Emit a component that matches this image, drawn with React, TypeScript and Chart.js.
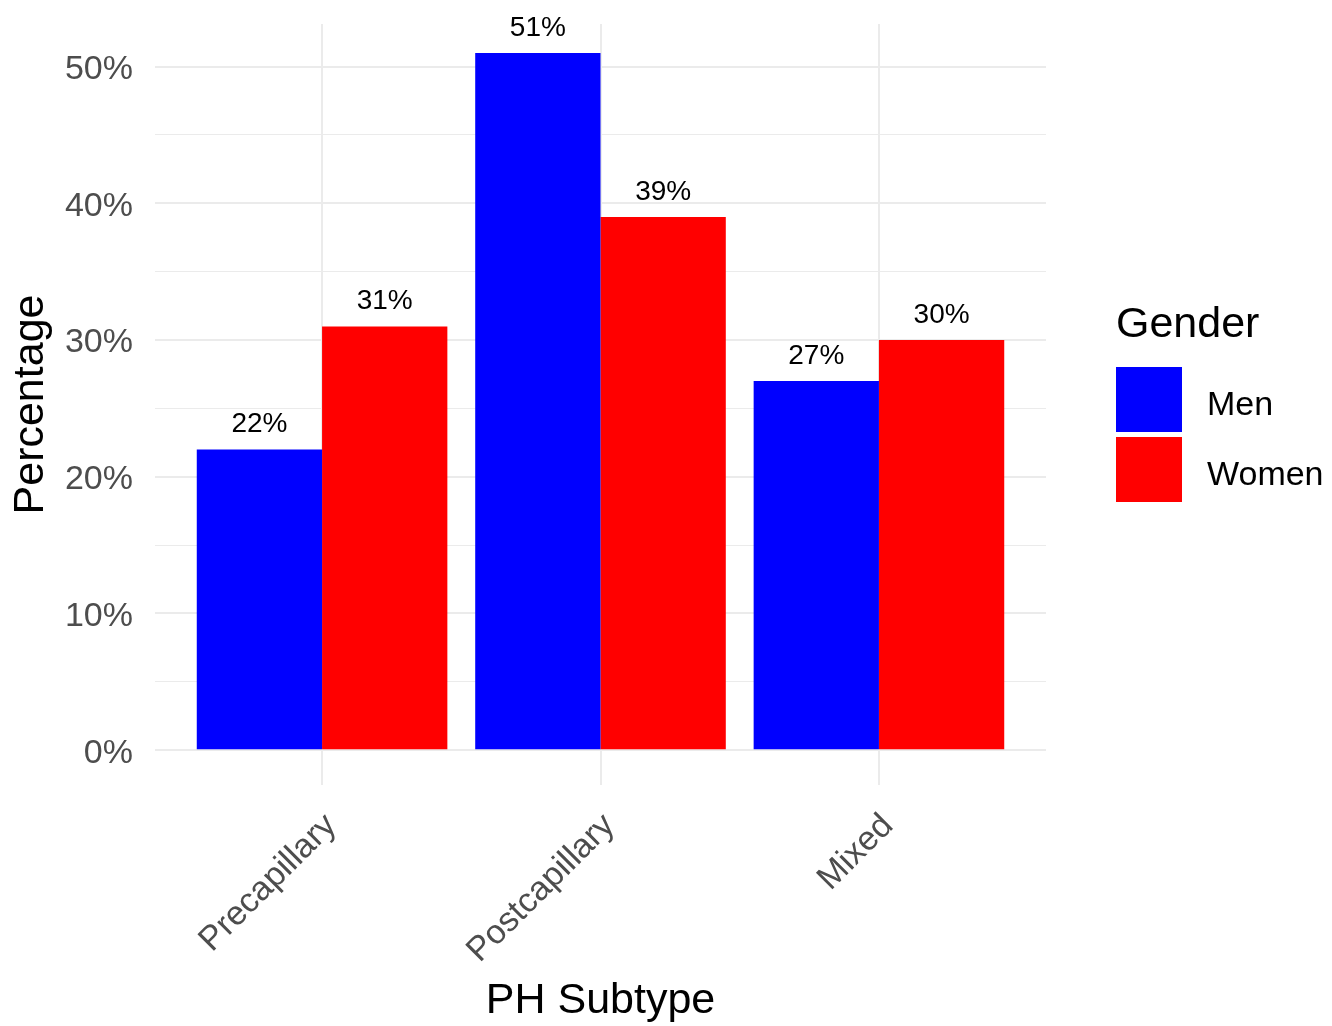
import React, { useEffect, useRef } from "react";
import { Chart, registerables } from "chart.js";

Chart.register(...registerables);

// ---- data ----
const categories = ["Precapillary", "Postcapillary", "Mixed"];
const seriesNames = ["Men", "Women"];
const menValues = [22, 51, 27];
const womenValues = [31, 39, 30];
const seriesColors = ["#0000FF", "#FF0000"];
const yTickValues = [0, 5, 10, 15, 20, 25, 30, 35, 40, 45, 50];
const yLabelledTicks = [0, 10, 20, 30, 40, 50];
const xTitle = "PH Subtype";
const yTitle = "Percentage";
const legendTitle = "Gender";

const FONT = "'Liberation Sans', Arial, Helvetica, sans-serif";

const valueLabelPlugin = {
  id: "valueLabels",
  afterDatasetsDraw(chart: any) {
    const ctx = chart.ctx;
    ctx.save();
    ctx.font = `28px ${FONT}`;
    ctx.fillStyle = "#000000";
    ctx.textAlign = "center";
    ctx.textBaseline = "alphabetic";
    chart.data.datasets.forEach((ds: any, i: number) => {
      const meta = chart.getDatasetMeta(i);
      meta.data.forEach((el: any, j: number) => {
        const v = ds.data[j].y;
        ctx.fillText(`${v}%`, el.x, el.y - 17);
      });
    });
    ctx.restore();
  },
};

const legendPlugin = {
  id: "ggLegend",
  afterDraw(chart: any) {
    const ctx = chart.ctx;
    const left = chart.chartArea.right + 70;
    ctx.save();
    ctx.fillStyle = "#000000";
    ctx.textAlign = "left";
    ctx.textBaseline = "alphabetic";
    ctx.font = `43px ${FONT}`;
    ctx.fillText(legendTitle, left, 337);
    const keyTop = 367;
    const keyW = 66;
    const keyH = 65;
    const step = 70;
    chart.data.datasets.forEach((ds: any, i: number) => {
      const top = keyTop + i * step;
      ctx.fillStyle = ds.backgroundColor;
      ctx.fillRect(left, top, keyW, keyH);
      ctx.fillStyle = "#000000";
      ctx.font = `34px ${FONT}`;
      ctx.fillText(ds.label, left + 91, top + 48);
    });
    ctx.restore();
  },
};

export default function App() {
  const canvasRef = useRef<HTMLCanvasElement | null>(null);

  useEffect(() => {
    document.body.style.margin = "0";
    const canvas = canvasRef.current;
    if (!canvas) return;
    Chart.defaults.font.family = FONT;

    const datasets = [menValues, womenValues].map((vals, s) => ({
      label: seriesNames[s],
      data: vals.map((v, i) => ({ x: i + 1, y: v })),
      backgroundColor: seriesColors[s],
      borderWidth: 0,
      categoryPercentage: 0.9,
      barPercentage: 1.0,
    }));

    const chart = new Chart(canvas, {
      type: "bar",
      data: { datasets } as any,
      plugins: [valueLabelPlugin, legendPlugin],
      options: {
        animation: false,
        responsive: false,
        maintainAspectRatio: false,
        devicePixelRatio: 1,
        layout: { padding: { top: 24, right: 286, bottom: 0, left: 0 } },
        plugins: {
          legend: { display: false },
          tooltip: { enabled: false },
          title: { display: false },
        },
        scales: {
          x: {
            type: "linear",
            min: 0.4,
            max: 3.6,
            offset: false,
            afterBuildTicks(scale: any) {
              scale.ticks = categories.map((_, i) => ({ value: i + 1 }));
            },
            afterFit(scale: any) {
              scale.height = 241;
              scale.paddingLeft = 0;
              scale.paddingRight = 0;
            },
            grid: {
              color: "#ebebeb",
              lineWidth: 2,
              drawTicks: false,
              offset: false,
            },
            border: { display: false },
            ticks: {
              autoSkip: false,
              minRotation: 45,
              maxRotation: 45,
              padding: 21,
              labelOffset: 9,
              color: "#4d4d4d",
              font: { size: 34, family: FONT },
              callback: (value: any) => categories[Math.round(Number(value)) - 1] ?? "",
            },
            title: {
              display: true,
              text: xTitle,
              color: "#000000",
              font: { size: 43, family: FONT, lineHeight: 1 },
              padding: { top: 0, bottom: 3 },
            },
          },
          y: {
            type: "linear",
            min: -2.55,
            max: 53.12,
            afterBuildTicks(scale: any) {
              scale.ticks = yTickValues.map((v) => ({ value: v }));
            },
            afterFit(scale: any) {
              scale.width = 155;
              scale.paddingTop = 0;
              scale.paddingBottom = 0;
            },
            grid: {
              color: "#ebebeb",
              lineWidth: (ctx: any) =>
                ctx.tick && yLabelledTicks.includes(ctx.tick.value) ? 2 : 1,
              drawTicks: false,
            },
            border: { display: false },
            ticks: {
              autoSkip: false,
              padding: 22,
              labelOffset: 3,
              color: "#4d4d4d",
              font: { size: 34, family: FONT },
              callback: (value: any) =>
                yLabelledTicks.includes(Number(value)) ? `${value}%` : "",
            },
            title: {
              display: true,
              text: yTitle,
              color: "#000000",
              font: { size: 43, family: FONT, lineHeight: 1 },
              padding: { top: 10, bottom: 0 },
            },
          },
        },
      } as any,
    });

    return () => {
      chart.destroy();
    };
  }, []);

  return (
    <div style={{ position: "absolute", left: 0, top: 0, width: 1332, height: 1026, background: "#ffffff" }}>
      <canvas ref={canvasRef} width={1332} height={1026} style={{ width: 1332, height: 1026, display: "block" }} />
    </div>
  );
}
